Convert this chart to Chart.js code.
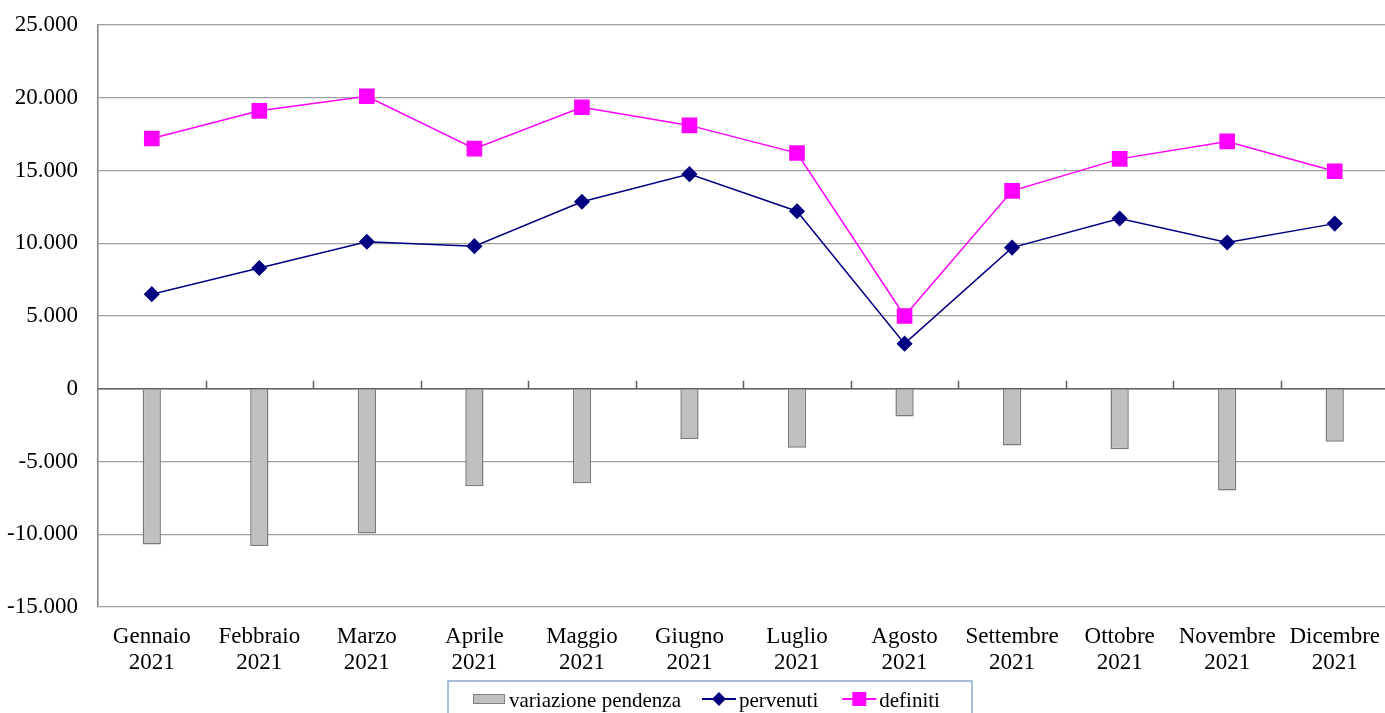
<!DOCTYPE html>
<html>
<head>
<meta charset="utf-8">
<script src="https://cdn.jsdelivr.net/npm/chart.js@4/dist/chart.umd.min.js"></script>
<style>
  html, body { margin: 0; padding: 0; background: #fff; overflow: hidden; }
  #wrap { position: relative; width: 1400px; height: 713px; }
</style>
</head>
<body>
<div id="wrap"><canvas id="chart"></canvas></div>
<script>
const months = ["Gennaio", "Febbraio", "Marzo", "Aprile", "Maggio", "Giugno",
  "Luglio", "Agosto", "Settembre", "Ottobre", "Novembre", "Dicembre"];
const year = "2021";
const variazione = [-10700, -10800, -9950, -6700, -6500, -3450, -4050, -1900, -3900, -4150, -7000, -3650];
const pervenuti = [6500, 8300, 10100, 9800, 12850, 14750, 12200, 3100, 9700, 11700, 10050, 11350];
const definiti = [17200, 19100, 20100, 16500, 19350, 18100, 16200, 5000, 13600, 15800, 17000, 14950];
const yTicks = [-15000, -10000, -5000, 0, 5000, 10000, 15000, 20000, 25000];

const serif = "'Liberation Serif', 'DejaVu Serif', serif";

// tick marks on the zero line, between categories
const zeroTicks = {
  id: 'zeroTicks',
  afterDatasetsDraw(chart) {
    const { ctx, scales: { x, y } } = chart;
    const y0 = y.getPixelForValue(0);
    ctx.save();
    ctx.strokeStyle = '#606060';
    ctx.lineWidth = 1.5;
    ctx.beginPath();
    ctx.moveTo(chart.chartArea.left, y0);
    ctx.lineTo(chart.chartArea.right, y0);
    for (let i = 1; i < months.length; i++) {
      const px = Math.round((x.getPixelForValue(i - 1) + x.getPixelForValue(i)) / 2) + 0.5;
      ctx.moveTo(px, y0);
      ctx.lineTo(px, y0 - 8);
    }
    ctx.stroke();
    ctx.restore();
  }
};

// legend box drawn at the bottom
const boxLegend = {
  id: 'boxLegend',
  afterDraw(chart) {
    const ctx = chart.ctx;
    const ds = chart.data.datasets;
    const top = 681, bottom = 716, left = 448, right = 972;
    ctx.save();
    ctx.strokeStyle = '#8ea6cc';
    ctx.lineWidth = 1.5;
    ctx.strokeRect(left, top, right - left, bottom - top);
    ctx.font = '21px ' + serif;
    ctx.textBaseline = 'alphabetic';
    const ty = 707;
    const sy = 699;
    let cx = 473;
    // bar swatch
    ctx.fillStyle = '#c0c0c0';
    ctx.fillRect(cx, sy - 5, 32, 10);
    ctx.strokeStyle = '#808080';
    ctx.lineWidth = 1;
    ctx.strokeRect(cx + 0.5, sy - 4.5, 31, 9);
    cx += 36;
    ctx.fillStyle = '#000';
    ctx.fillText(ds[0].label, cx, ty);
    cx += ctx.measureText(ds[0].label).width + 21;
    // line + marker swatches
    [ds[1], ds[2]].forEach(d => {
      ctx.strokeStyle = d.borderColor;
      ctx.lineWidth = 2;
      ctx.beginPath();
      ctx.moveTo(cx, sy);
      ctx.lineTo(cx + 34, sy);
      ctx.stroke();
      ctx.fillStyle = d.pointBackgroundColor;
      ctx.beginPath();
      if (d.pointStyle === 'rect') {
        ctx.rect(cx + 17 - 7, sy - 7, 14, 14);
      } else {
        ctx.moveTo(cx + 17, sy - 7);
        ctx.lineTo(cx + 24, sy);
        ctx.lineTo(cx + 17, sy + 7);
        ctx.lineTo(cx + 10, sy);
        ctx.closePath();
      }
      ctx.fill();
      cx += 37;
      ctx.fillStyle = '#000';
      ctx.fillText(d.label, cx, ty);
      cx += ctx.measureText(d.label).width + 24;
    });
    ctx.restore();
  }
};

new Chart(document.getElementById('chart'), {
  data: {
    labels: months.map(m => [m, year]),
    datasets: [
      {
        type: 'bar',
        label: 'variazione pendenza',
        data: variazione,
        backgroundColor: '#c0c0c0',
        borderColor: '#7a7a7a',
        borderWidth: 1.5,
        categoryPercentage: 1,
        barPercentage: 0.17,
        order: 3
      },
      {
        type: 'line',
        label: 'pervenuti',
        data: pervenuti,
        borderColor: '#000080',
        backgroundColor: '#000080',
        pointBackgroundColor: '#000080',
        pointBorderColor: '#000080',
        pointStyle: 'rectRot',
        pointRadius: 7,
        borderWidth: 1.5,
        tension: 0,
        order: 2
      },
      {
        type: 'line',
        label: 'definiti',
        data: definiti,
        borderColor: '#ff00ff',
        backgroundColor: '#ff00ff',
        pointBackgroundColor: '#ff00ff',
        pointBorderColor: '#ff00ff',
        pointStyle: 'rect',
        pointRadius: 10,
        borderWidth: 1.5,
        tension: 0,
        order: 1
      }
    ]
  },
  options: {
    responsive: true,
    maintainAspectRatio: false,
    animation: false,
    layout: { padding: { top: 25, right: 0, bottom: 20, left: 0 } },
    plugins: {
      legend: { display: false },
      tooltip: { enabled: false }
    },
    scales: {
      x: {
        offset: true,
        grid: { display: false, drawTicks: false },
        border: { display: false },
        ticks: {
          color: '#000',
          font: { family: serif, size: 23, lineHeight: 1.13 },
          padding: 17,
          maxRotation: 0,
          autoSkip: false
        }
      },
      y: {
        min: -15000,
        max: 25000,
        afterBuildTicks: scale => { scale.ticks = yTicks.map(v => ({ value: v })); },
        afterFit: scale => {
          scale.width = 98;
          scale.paddingTop = 0;
          scale.paddingBottom = 0;
        },
        grid: { color: '#a0a0a0', lineWidth: 1.2, drawTicks: false },
        border: { display: true, color: '#808080', width: 1.5 },
        ticks: {
          color: '#000',
          font: { family: serif, size: 23 },
          padding: 20,
          callback: v => v.toLocaleString('it-IT').replace(/\u00a0/g, '.')
        }
      }
    }
  },
  plugins: [zeroTicks, boxLegend]
});
</script>
</body>
</html>
